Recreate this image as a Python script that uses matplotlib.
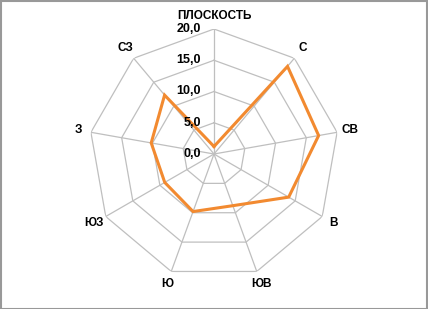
import numpy as np
import matplotlib
matplotlib.use("Agg")
import matplotlib.pyplot as plt
from matplotlib.patches import Rectangle

categories = ["ПЛОСКОСТЬ", "С", "СВ", "В", "ЮВ", "Ю", "ЮЗ", "З", "СЗ"]
values = [1.2, 18.3, 17.0, 13.8, 8.8, 9.8, 9.1, 10.2, 12.3]
levels = [0.0, 5.0, 10.0, 15.0, 20.0]
level_labels = ["0,0", "5,0", "10,0", "15,0", "20,0"]

plt.rcParams['font.family'] = ['Liberation Sans', 'DejaVu Sans']

W, H = 428, 309
fig = plt.figure(figsize=(W / 100, H / 100), dpi=100)
cx, cy, R = 214, 154, 125
ax = fig.add_axes([(cx - R) / W, (H - cy - R) / H, 2 * R / W, 2 * R / H], projection='polar')
ax.set_theta_zero_location('N')
ax.set_theta_direction(-1)
ax.set_ylim(0, 20)
ax.grid(False)
ax.set_xticks([])
ax.set_yticks([])
ax.spines['polar'].set_visible(False)
ax.patch.set_alpha(0)

n = len(categories)
theta = np.arange(n) * 2 * np.pi / n
theta_c = np.append(theta, theta[0])
grid_col = '#BFBFBF'
for lv in levels[1:]:
    ax.plot(theta_c, [lv] * (n + 1), color=grid_col, lw=0.9, zorder=1)
for t in theta:
    ax.plot([t, t], [0, levels[-1]], color=grid_col, lw=0.9, zorder=1)

ax.plot(theta_c, values + [values[0]], color='#F28A30', lw=2.2, zorder=3,
        solid_joinstyle='miter')

for t, lab in zip(theta, categories):
    ax.text(t, 22.1, lab, ha='center', va='center', fontsize=8.5,
            fontweight='bold', color='#000000')

for lv, lab in zip(levels, level_labels):
    ax.annotate(lab, xy=(0, lv), xytext=(-9.5, 0), textcoords='offset points',
                ha='right', va='center', fontsize=9, fontweight='bold',
                color='#000000')

fig.patches.append(Rectangle((0.5 / W, 0.5 / H), 1 - 1.5 / W, 1 - 1.5 / H,
                             transform=fig.transFigure, fill=False,
                             edgecolor='#999999', lw=1.5))

fig.savefig('out.png', dpi=100)
